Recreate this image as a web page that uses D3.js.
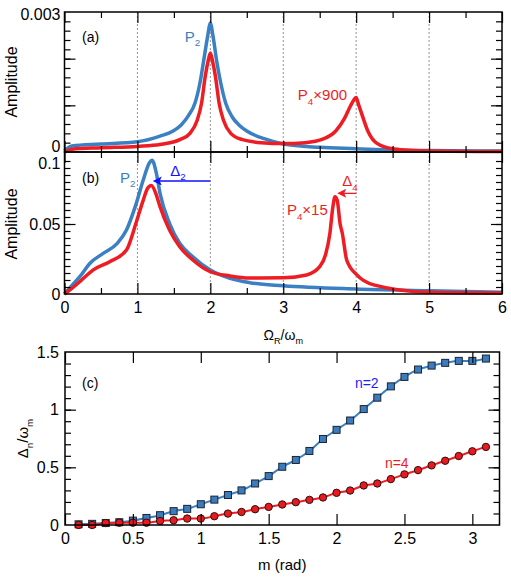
<!DOCTYPE html>
<html>
<head>
<meta charset="utf-8">
<script src="https://cdn.jsdelivr.net/npm/d3@7"></script>
<style>
body { margin: 0; background: #fff; }
text { font-family: "Liberation Sans", Arial, sans-serif; }
</style>
</head>
<body>
<svg id="chart"></svg>
<script>
const width = 511;
const height = 578;

// panel (a): spectra, ΩR/ωm vs amplitude
const aP2X = [0, 0.1, 0.5, 1, 1.31, 1.49, 1.6, 1.7, 1.79, 1.86, 1.905, 1.96, 2.0, 2.04, 2.09, 2.14, 2.21, 2.3, 2.4, 2.5, 2.75, 3, 3.5, 4, 4.5, 5, 6];
const aP2Y = [0.00003, 0.00013, 0.00017, 0.00022, 0.00034, 0.00045, 0.00058, 0.00078, 0.00105, 0.0015, 0.00192, 0.00245, 0.00276, 0.00245, 0.00192, 0.0015, 0.00105, 0.00075, 0.00057, 0.00045, 0.00028, 0.00017, 0.0001, 0.00007, 0.00004, 0.00003, 0.00002];
const aP4X = [0, 0.1, 0.5, 1, 1.31, 1.59, 1.72, 1.82, 1.88, 1.93, 1.97, 2.0, 2.03, 2.07, 2.12, 2.18, 2.28, 2.43, 2.7, 3, 3.3, 3.55, 3.72, 3.84, 3.92, 3.97, 4.0, 4.03, 4.08, 4.16, 4.28, 4.5, 5, 6];
const aP4Y = [0, 0.00006, 0.00009, 0.00012, 0.00016, 0.00027, 0.0004, 0.00068, 0.00105, 0.00162, 0.00195, 0.00212, 0.00195, 0.00162, 0.00105, 0.00068, 0.0004, 0.00027, 0.0002, 0.00018, 0.0002, 0.00028, 0.00045, 0.00072, 0.00098, 0.00112, 0.00117, 0.00103, 0.0008, 0.00045, 0.00019, 0.00007, 0.00002, 0.00001];

// panel (b)
const bP2X = [0, 0.1, 0.21, 0.35, 0.53, 0.72, 0.85, 0.97, 1.08, 1.165, 1.2, 1.26, 1.31, 1.44, 1.58, 1.76, 2.0, 2.27, 2.54, 3, 4, 5, 6];
const bP2Y = [0, 0.006, 0.0124, 0.022, 0.029, 0.036, 0.0457, 0.0624, 0.0814, 0.0938, 0.0955, 0.0862, 0.0719, 0.0505, 0.0362, 0.0266, 0.0171, 0.0112, 0.0081, 0.0059, 0.0036, 0.0024, 0.0012];
const bP4X = [0, 0.1, 0.21, 0.39, 0.62, 0.85, 0.98, 1.08, 1.14, 1.19, 1.26, 1.31, 1.44, 1.58, 1.76, 2.0, 2.27, 2.54, 3, 3.32, 3.5, 3.58, 3.64, 3.68, 3.71, 3.74, 3.78, 3.81, 3.87, 4.01, 4.24, 5, 6];
const bP4Y = [0, 0.004, 0.0088, 0.0171, 0.0231, 0.0314, 0.0505, 0.0671, 0.0755, 0.0775, 0.0707, 0.0624, 0.0457, 0.0338, 0.0243, 0.0159, 0.0129, 0.0114, 0.0116, 0.0136, 0.0195, 0.028, 0.0434, 0.062, 0.0695, 0.067, 0.05, 0.0434, 0.0243, 0.0136, 0.0065, 0.0012, 0.0007];

// panel (c): shift Δn/ωm vs m
const mValues = [0.1, 0.2, 0.3, 0.4, 0.5, 0.6, 0.7, 0.8, 0.9, 1.0, 1.1, 1.2, 1.3, 1.4, 1.5, 1.6, 1.7, 1.8, 1.9, 2.0, 2.1, 2.2, 2.3, 2.4, 2.5, 2.6, 2.7, 2.8, 2.9, 3.0, 3.1];
const shiftN2 = [0.006, 0.01, 0.017, 0.024, 0.038, 0.061, 0.085, 0.12, 0.14, 0.18, 0.22, 0.26, 0.30, 0.36, 0.424, 0.505, 0.564, 0.642, 0.746, 0.825, 0.906, 1.005, 1.104, 1.202, 1.284, 1.348, 1.382, 1.406, 1.423, 1.423, 1.443];
const shiftN4 = [0.0, 0.0, 0.017, 0.02, 0.02, 0.02, 0.035, 0.041, 0.056, 0.056, 0.076, 0.099, 0.113, 0.137, 0.157, 0.178, 0.198, 0.218, 0.239, 0.279, 0.299, 0.343, 0.36, 0.398, 0.439, 0.476, 0.517, 0.557, 0.598, 0.639, 0.677];

const omegaTicks = [0, 1, 2, 3, 4, 5, 6];
const mTicks = [0, 0.5, 1, 1.5, 2, 2.5, 3];

const blue = '#3a80c2';
const red = '#ee1d23';

const svg = d3.select('#chart').attr('width', width).attr('height', height);

const x = d3.scaleLinear().domain([0, 6]).range([64.5, 502]);
const yA = d3.scaleLinear().domain([0, 0.003]).range([152, 12]);
const yB = d3.scaleLinear().domain([0, 0.1]).range([294, 154]);
const xC = d3.scaleLinear().domain([0, 3.2]).range([65, 499.5]);
const yC = d3.scaleLinear().domain([0, 1.5]).range([525, 352]);

const zip = (xs, ys) => xs.map((v, i) => [v, ys[i]]);

// inward ticks on one side of a panel
function ticks(axisFn, scale, values, len, at) {
    const g = svg.append('g')
        .attr('transform', at)
        .call(axisFn(scale).tickValues(values).tickSize(-len).tickFormat(''));
    g.select('.domain').remove();
    g.selectAll('line').attr('stroke', '#000').attr('stroke-width', 1.2);
    return g;
}

function labels(axisFn, scale, values, fmt, pad, at) {
    const g = svg.append('g')
        .attr('transform', at)
        .call(axisFn(scale).tickValues(values).tickSize(0).tickPadding(pad).tickFormat(fmt));
    g.select('.domain').remove();
    g.attr('font-family', '"Liberation Sans", Arial, sans-serif').attr('font-size', 16);
    g.selectAll('text').attr('fill', '#000');
    return g;
}

function panelTicks(xs, ys, left, right, top, bottom, xMaj, xMin, yMaj, yMin) {
    [[xMaj, 11], [xMin, 6]].forEach(([v, l]) => {
        ticks(d3.axisTop, xs, v, l, `translate(0,${top})`);
        ticks(d3.axisBottom, xs, v, l, `translate(0,${bottom})`);
    });
    [[yMaj, 11], [yMin, 6]].forEach(([v, l]) => {
        ticks(d3.axisLeft, ys, v, l, `translate(${left},0)`);
        ticks(d3.axisRight, ys, v, l, `translate(${right},0)`);
    });
}

function note(px, py, parts, color, size, anchor) {
    const t = svg.append('text')
        .attr('x', px).attr('y', py)
        .attr('fill', color)
        .attr('font-size', size)
        .attr('text-anchor', anchor || 'start')
        .attr('font-family', 'Lato, "Open Sans", sans-serif');
    let shift = 0;
    parts.forEach(([s, sub]) => {
        const dy = sub ? size * 0.3 : 0;
        t.append('tspan').text(s)
            .attr('dy', dy - shift)
            .attr('font-size', sub ? size * 0.65 : size);
        shift = dy;
    });
    return t;
}

const line = (xs, ys) => d3.line().x(d => xs(d[0])).y(d => ys(d[1])).curve(d3.curveMonotoneX);

// grid lines at integer Ω through panels (a) and (b)
svg.append('g').selectAll('line')
    .data([1, 2, 3, 4, 5]).enter().append('line')
    .attr('x1', d => x(d)).attr('x2', d => x(d))
    .attr('y1', 12).attr('y2', 294)
    .attr('stroke', '#666')
    .attr('stroke-width', 0.7)
    .attr('stroke-dasharray', '2,2');

// curves
svg.append('path').datum(zip(aP2X, aP2Y))
    .attr('fill', 'none').attr('stroke', blue).attr('stroke-width', 3.5)
    .attr('d', line(x, yA));
svg.append('path').datum(zip(aP4X, aP4Y))
    .attr('fill', 'none').attr('stroke', red).attr('stroke-width', 3.5)
    .attr('d', line(x, yA));
svg.append('path').datum(zip(bP2X, bP2Y))
    .attr('fill', 'none').attr('stroke', blue).attr('stroke-width', 3.5)
    .attr('d', line(x, yB));
svg.append('path').datum(zip(bP4X, bP4Y))
    .attr('fill', 'none').attr('stroke', red).attr('stroke-width', 3.5)
    .attr('d', line(x, yB));

// panel (c) lines + markers
svg.append('path').datum(zip(mValues, shiftN2))
    .attr('fill', 'none').attr('stroke', blue).attr('stroke-width', 2)
    .attr('d', line(xC, yC));
svg.append('path').datum(zip(mValues, shiftN4))
    .attr('fill', 'none').attr('stroke', red).attr('stroke-width', 2)
    .attr('d', line(xC, yC));
svg.append('g').selectAll('rect')
    .data(zip(mValues, shiftN2)).enter().append('rect')
    .attr('x', d => xC(d[0]) - 3.5).attr('y', d => yC(d[1]) - 3.5)
    .attr('width', 7).attr('height', 7)
    .attr('fill', '#3b7cbf').attr('stroke', '#1c2330').attr('stroke-width', 1);
svg.append('g').selectAll('circle')
    .data(zip(mValues, shiftN4)).enter().append('circle')
    .attr('cx', d => xC(d[0])).attr('cy', d => yC(d[1]))
    .attr('r', 3.7)
    .attr('fill', '#e8191f').attr('stroke', '#2a1010').attr('stroke-width', 1);

// ticks
panelTicks(x, yA, 64.5, 502, 12, 152, omegaTicks, d3.range(0.5, 6, 1), [0.001, 0.002], d3.range(0.0002, 0.003, 0.0002));
panelTicks(x, yB, 64.5, 502, 152, 294, omegaTicks, d3.range(0.5, 6, 1), [0.05], d3.range(0.005, 0.1, 0.005));
panelTicks(xC, yC, 65, 499.5, 352, 525, mTicks, [], [0.5, 1], d3.range(0.1, 1.5, 0.1));

// frames
[[12, 152], [152, 294]].forEach(([t, b]) => {
    svg.append('rect').attr('x', 64.5).attr('y', t).attr('width', 502 - 64.5).attr('height', b - t)
        .attr('fill', 'none').attr('stroke', '#000').attr('stroke-width', 1.5);
});
svg.append('rect').attr('x', 65).attr('y', 352).attr('width', 499.5 - 65).attr('height', 525 - 352)
    .attr('fill', 'none').attr('stroke', '#000').attr('stroke-width', 1.5);

// tick labels
const la = labels(d3.axisLeft, yA, [0, 0.003], d => d === 0 ? '0' : '0.003', 4, 'translate(64.5,0)');
la.selectAll('text').attr('dy', (d) => d === 0 ? '-0.05em' : '0.45em');
const lb = labels(d3.axisLeft, yB, [0, 0.05, 0.1], d => d === 0 ? '0' : d3.format('.2~f')(d), 4, 'translate(64.5,0)');
lb.selectAll('text').attr('dy', (d) => d === 0.1 ? '0.9em' : '0.32em');
labels(d3.axisBottom, x, omegaTicks, d3.format('d'), 8, 'translate(0,294)');
labels(d3.axisLeft, yC, [0, 0.5, 1, 1.5], d3.format('~g'), 6, 'translate(65,0)');
labels(d3.axisBottom, xC, mTicks, d3.format('~g'), 8, 'translate(0,525)');

// axis titles
svg.append('text').attr('transform', `translate(17,${(12 + 152) / 2}) rotate(-90)`)
    .attr('text-anchor', 'middle').attr('font-size', 16).text('Amplitude');
svg.append('text').attr('transform', `translate(17,${(152 + 294) / 2 + 1}) rotate(-90)`)
    .attr('text-anchor', 'middle').attr('font-size', 16).text('Amplitude');
note((64.5 + 502) / 2, 340, [['Ω'], ['R', 1], ['/ω'], ['m', 1]], '#000', 14, 'middle')
    .attr('font-family', '"Liberation Sans", Arial, sans-serif');
note(0, 0, [['Δ'], ['n', 1], ['/ω'], ['m', 1]], '#000', 15, 'middle')
    .attr('font-family', '"Liberation Sans", Arial, sans-serif')
    .attr('transform', `translate(28,${(352 + 525) / 2}) rotate(-90)`);
svg.append('text').attr('x', (65 + 499.5) / 2).attr('y', 570)
    .attr('text-anchor', 'middle').attr('font-size', 15).text('m (rad)');

// panel letters
svg.append('text').attr('x', x(0.24)).attr('y', yA(0.00236)).attr('font-size', 14).text('(a)');
svg.append('text').attr('x', x(0.24)).attr('y', yB(0.0793)).attr('font-size', 14).text('(b)');
svg.append('text').attr('x', xC(0.125)).attr('y', yC(1.19)).attr('font-size', 14).text('(c)');

// series notes
note(x(1.65), yA(0.00236), [['P'], ['2', 1]], blue, 15);
note(x(3.2), yA(0.00111), [['P'], ['4', 1], ['×900']], red, 15);
note(x(0.76), yB(0.0793), [['P'], ['2', 1]], blue, 15);
note(x(3.05), yB(0.0564), [['P'], ['4', 1], ['×15']], red, 15);
note(xC(2.135), yC(1.19), [['n=2']], '#1d1dff', 14);
note(xC(2.356), yC(0.496), [['n=4']], red, 14);

// shift arrows Δ2, Δ4
function arrow(from, to, level, color) {
    const y0 = yB(level), x0 = x(from), x1 = x(to);
    svg.append('line').attr('x1', x0).attr('x2', x1 + 6).attr('y1', y0).attr('y2', y0)
        .attr('stroke', color).attr('stroke-width', 1.3);
    svg.append('path')
        .attr('d', `M${x1},${y0} L${x1 + 9},${y0 - 4.5} L${x1 + 7},${y0} L${x1 + 9},${y0 + 4.5} Z`)
        .attr('fill', color);
}
arrow(2, 1.21, 0.0807, '#1010ff');
note(x(1.45), yB(0.0845), [['Δ'], ['2', 1]], '#1010ff', 15);
arrow(4, 3.74, 0.0719, red);
note(x(3.81), yB(0.0768), [['Δ'], ['4', 1]], red, 15);
</script>
</body>
</html>
